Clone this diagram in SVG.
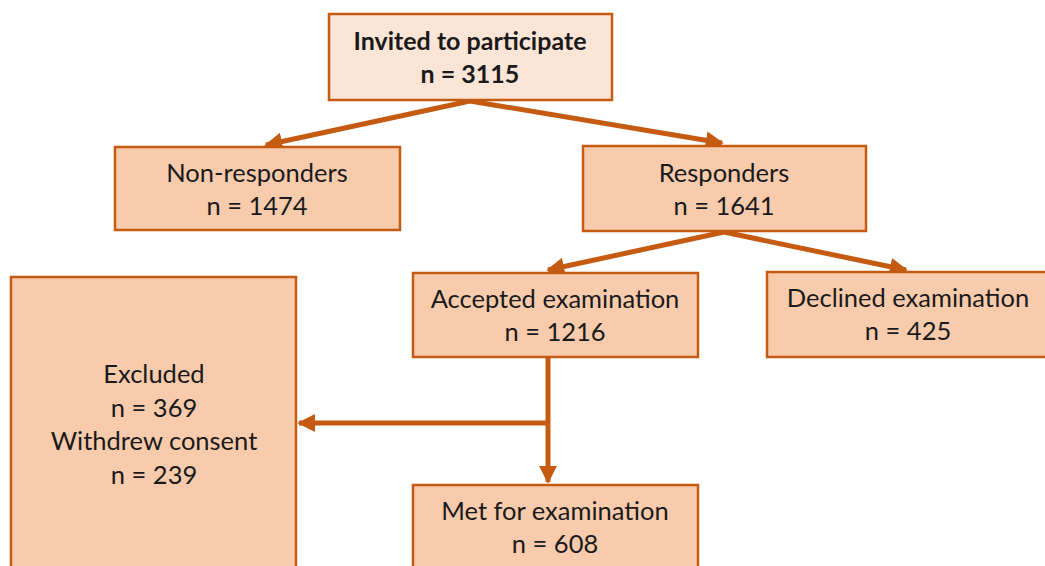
<svg xmlns="http://www.w3.org/2000/svg" width="1045" height="566" viewBox="0 0 1045 566">
<style>
.box{fill:#F8CBAD;stroke:#C55A11;stroke-width:2.5}
.top{fill:#FBE5D6;stroke:#C55A11;stroke-width:2.5}
.t{font-family:Lato,"Open Sans",sans-serif;font-size:25.5px;fill:#1a1a1a;text-anchor:middle}
.b{font-weight:bold;font-size:25px}
.c{stroke:#C55A11;stroke-width:5;fill:none}
</style>
<defs>
<marker id="ah" viewBox="0 0 10 10" refX="9" refY="5" markerWidth="3.6" markerHeight="4" orient="auto" markerUnits="strokeWidth">
<path d="M0,0 L10,5 L0,10 z" fill="#C55A11"/>
</marker>
</defs>
<g id="connectors">
<line class="c" x1="470" y1="101" x2="266" y2="145" marker-end="url(#ah)"/>
<line class="c" x1="470" y1="101" x2="722" y2="143" marker-end="url(#ah)"/>
<line class="c" x1="724" y1="232" x2="548" y2="270" marker-end="url(#ah)"/>
<line class="c" x1="724" y1="232" x2="906" y2="270" marker-end="url(#ah)"/>
<line class="c" x1="548" y1="358" x2="548" y2="482" marker-end="url(#ah)"/>
<line class="c" x1="550" y1="423" x2="299" y2="423" marker-end="url(#ah)"/>
</g>
<g id="invited">
<rect class="top" x="329" y="14" width="283" height="86"/>
<text class="t b" x="470" y="50">Invited to participate</text>
<text class="t b" x="470" y="83">n = 3115</text>
</g>
<g id="nonresponders">
<rect class="box" x="115" y="147" width="285" height="83"/>
<text class="t" x="257" y="182">Non-responders</text>
<text class="t" x="257" y="215">n = 1474</text>
</g>
<g id="responders">
<rect class="box" x="583" y="146" width="283" height="85"/>
<text class="t" x="724" y="182">Responders</text>
<text class="t" x="724" y="215">n = 1641</text>
</g>
<g id="accepted">
<rect class="box" x="413" y="273" width="285" height="84"/>
<text class="t" x="555" y="308">Accepted examination</text>
<text class="t" x="555" y="341">n = 1216</text>
</g>
<g id="declined">
<rect class="box" x="767" y="272" width="280" height="85"/>
<text class="t" x="908" y="307">Declined examination</text>
<text class="t" x="908" y="340">n = 425</text>
</g>
<g id="excluded">
<rect class="box" x="11" y="277" width="285" height="300"/>
<text class="t" x="154" y="383">Excluded</text>
<text class="t" x="154" y="417">n = 369</text>
<text class="t" x="154" y="450">Withdrew consent</text>
<text class="t" x="154" y="484">n = 239</text>
</g>
<g id="met">
<rect class="box" x="413" y="485" width="285" height="100"/>
<text class="t" x="555" y="520">Met for examination</text>
<text class="t" x="555" y="553">n = 608</text>
</g>
</svg>
